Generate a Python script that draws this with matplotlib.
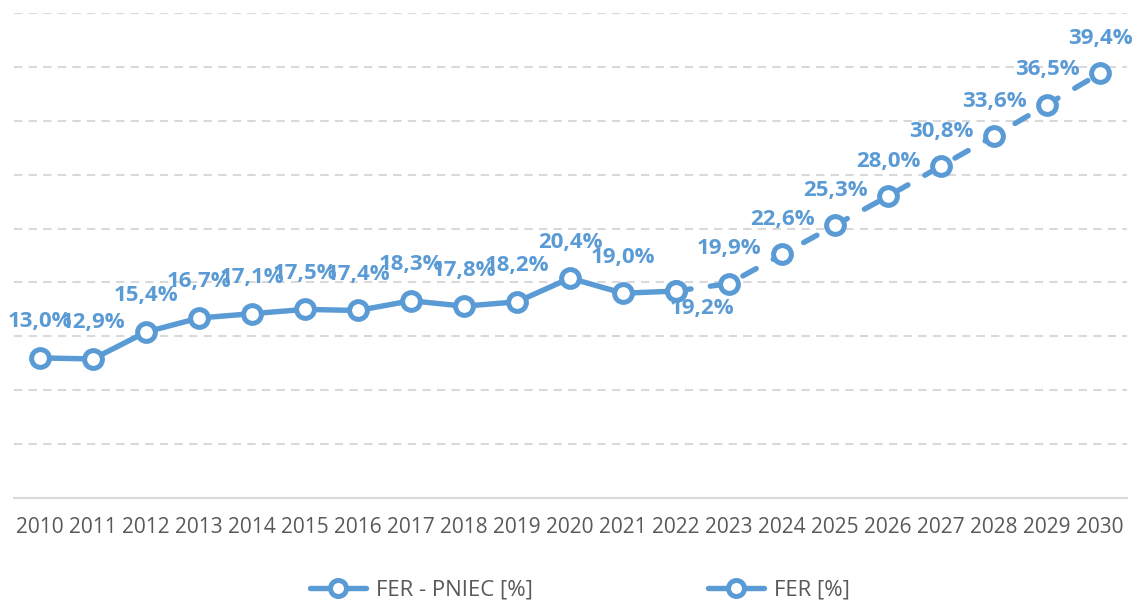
import matplotlib
matplotlib.use("Agg")
import matplotlib.pyplot as plt
from matplotlib.lines import Line2D

years = list(range(2010, 2031))
fer_years = list(range(2010, 2023))
fer_values = [13.0, 12.9, 15.4, 16.7, 17.1, 17.5, 17.4, 18.3, 17.8, 18.2, 20.4, 19.0, 19.2]
pniec_years = list(range(2022, 2031))
pniec_values = [19.2, 19.9, 22.6, 25.3, 28.0, 30.8, 33.6, 36.5, 39.4]
series_names = ["FER - PNIEC [%]", "FER [%]"]

BLUE = "#5B9BD5"
GRAY_TXT = "#595959"
GRID = "#D9D9D9"
FONT = "Open Sans"

plt.rcParams['font.family'] = [FONT, 'DejaVu Sans']

fig = plt.figure(figsize=(11.34, 6.01), dpi=100)
W, H = 1134, 601
ax = fig.add_axes([13.5 / W, 103 / H, (1126.5 - 13.5) / W, (498 - 13) / H])

xf = [y - 2010 for y in fer_years]
xp = [y - 2010 for y in pniec_years]

LW = 3.9
mk = dict(marker='o', markersize=12.8, markerfacecolor='white', markeredgecolor=BLUE,
          markeredgewidth=3.6)
ax.plot(xp, pniec_values, color=BLUE, lw=LW, dashes=(2.8, 3.6), solid_capstyle='round',
        dash_capstyle='round', zorder=3, **mk)
ax.plot(xf, fer_values, color=BLUE, lw=LW, solid_capstyle='round', zorder=4, **mk)

def fmt(v):
    return f"{v:.1f}%".replace('.', ',')

lab_kw = dict(textcoords='offset points', ha='center', va='center', color=BLUE,
              fontsize=16, fontweight='bold', zorder=5)
for x, v in zip(xf[:-1], fer_values[:-1]):
    ax.annotate(fmt(v), (x, v), xytext=(0, 26), **lab_kw)
# 2022 label (below-right)
ax.annotate(fmt(pniec_values[0]), (xp[0], pniec_values[0]), xytext=(18.7, -12.5), **lab_kw)
for x, v in zip(xp[1:], pniec_values[1:]):
    ax.annotate(fmt(v), (x, v), xytext=(0, 25), **lab_kw)

ax.set_xlim(-0.5, len(years) - 0.5)
ax.set_ylim(0, 45)
ax.set_yticks(range(5, 50, 5))
ax.yaxis.grid(True, color=GRID, lw=1.5, dashes=(4, 3))
ax.set_axisbelow(True)
ax.tick_params(axis='y', left=False, labelleft=False)
ax.set_xticks(range(len(years)))
ax.set_xticklabels([str(y) for y in years], fontsize=15, color=GRAY_TXT)
ax.tick_params(axis='x', length=0, pad=14)
for s in ['top', 'right', 'left']:
    ax.spines[s].set_visible(False)
ax.spines['bottom'].set_color(GRID)
ax.spines['bottom'].set_linewidth(1.5)

handles = [Line2D([], [], color=BLUE, lw=LW, solid_capstyle='round', **mk),
           Line2D([], [], color=BLUE, lw=LW, solid_capstyle='round', **mk)]
fig.legend(handles, series_names, loc='center', bbox_to_anchor=(580 / W, 11 / H),
           ncol=2, frameon=False, fontsize=16, labelcolor=GRAY_TXT,
           handlelength=2.5, columnspacing=7.9, handletextpad=0.45, markerscale=0.9,
           borderpad=0)

fig.savefig("out.png", dpi=100)
